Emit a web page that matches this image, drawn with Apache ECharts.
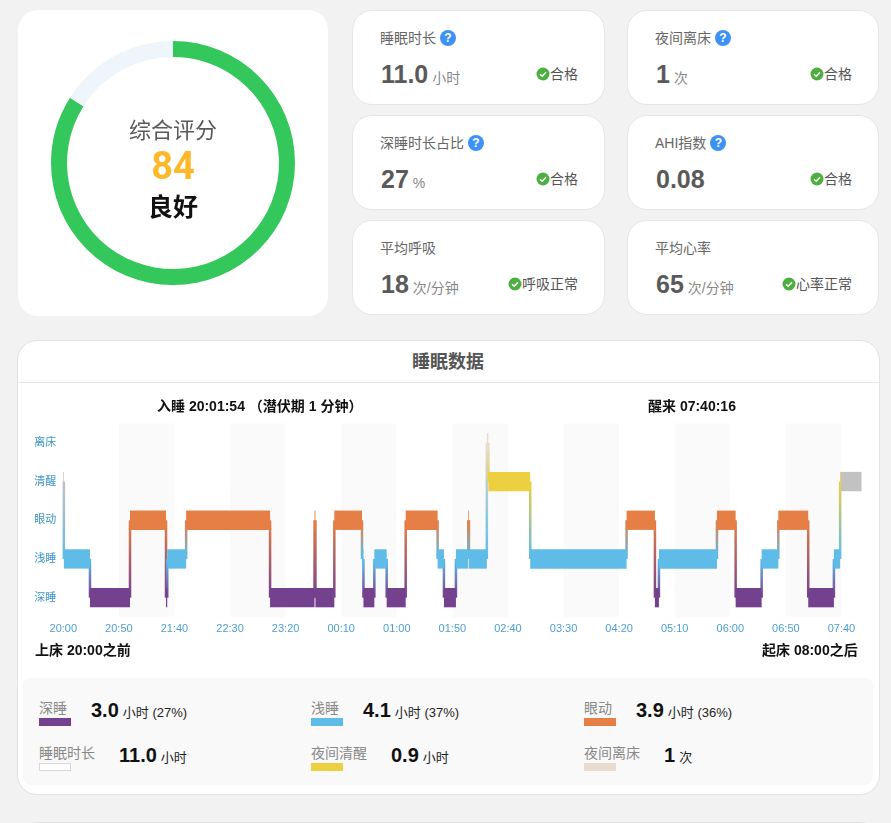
<!DOCTYPE html>
<html lang="zh">
<head>
<meta charset="utf-8">
<title>睡眠数据</title>
<script src="https://cdn.jsdelivr.net/npm/echarts@6/dist/echarts.min.js"></script>
<style>
  html, body { margin: 0; padding: 0; width: 891px; height: 823px; overflow: hidden; background: #f2f2f2; }
  body { position: relative; font-family: "Liberation Sans", "Noto Sans CJK SC", sans-serif; }
  .abs { position: absolute; }
  .card { position: absolute; background: #fff; border: 1px solid #e6e6e6; border-radius: 20px; box-sizing: border-box; }
  .m-title { position: absolute; left: 27px; top: 17px; font-size: 14px; line-height: 20px; color: #666; white-space: nowrap; }
  .help { display: inline-block; width: 16px; height: 16px; border-radius: 50%; background: #3f92f5; color: #fff; font-size: 12px; font-weight: 700; line-height: 16px; text-align: center; margin-left: 4px; vertical-align: 1px; }
  .m-value { position: absolute; left: 28px; top: 47px; line-height: 32px; white-space: nowrap; color: #5a5a5a; font-size: 25px; font-weight: 700; }
  .m-unit { font-size: 14px; font-weight: 400; color: #888; margin-left: 4px; }
  .m-status { position: absolute; right: 26px; top: 53px; font-size: 14px; line-height: 20px; color: #555; white-space: nowrap; display: flex; align-items: center; }
  .m-status svg { display: block; }
  .legend-panel { position: absolute; left: 23px; top: 678px; width: 850px; height: 107px; background: #f9f9f9; border-radius: 8px; }
  .lg { position: absolute; display: flex; align-items: flex-start; }
  .lg-name { font-size: 14px; line-height: 20px; color: #888; white-space: nowrap; }
  .lg-swatch { position: absolute; left: 0; top: 20px; width: 32px; height: 8px; box-sizing: border-box; }
  .lg-val { margin-left: 24px; font-size: 20px; font-weight: 700; color: #111; line-height: 28px; white-space: nowrap; margin-top: -2px; }
  .lg-unit { font-size: 13px; font-weight: 400; color: #222; margin-left: 4px; }
</style>
</head>
<body>
<div class="card" style="left:18px;top:10px;width:310px;height:306px;border:none"></div>
<div id="ring" class="abs" style="left:18px;top:10px;width:310px;height:306px"></div>
<div id="metrics"></div>

<div class="card" style="left:17px;top:340px;width:863px;height:455px;border-color:#e2e2e2"></div>
<div class="abs" style="left:17px;top:351px;width:862px;text-align:center;font-size:18px;font-weight:700;line-height:22px;color:#555">睡眠数据</div>
<div class="abs" style="left:18px;top:382px;width:861px;height:1px;background:#e6e6e6"></div>
<div id="sleep" class="abs" style="left:17px;top:385px;width:862px;height:290px"></div>
<div class="legend-panel"></div>
<div id="legend"></div>
<div class="card" style="left:17px;top:822px;width:863px;height:60px;border-color:#e2e2e2"></div>

<script>
// ---- score ring ----
const scoreValue = 84;
const scoreMax = 100;
const scoreTitle = '综合评分';
const scoreGrade = '良好';

// ---- metric cards ----
const metricTitles = ['睡眠时长', '夜间离床', '深睡时长占比', 'AHI指数', '平均呼吸', '平均心率'];
const metricValues = ['11.0', '1', '27', '0.08', '18', '65'];
const metricUnits = ['小时', '次', '%', '', '次/分钟', '次/分钟'];
const metricStatus = ['合格', '合格', '合格', '合格', '呼吸正常', '心率正常'];
const metricHelp = [true, true, true, true, false, false];

// ---- hypnogram ----
const stageNames = ['深睡', '浅睡', '眼动', '清醒', '离床'];
const stageColors = ['#74418f', '#5fbbe8', '#e67f45', '#ecd03f', '#e8dccf'];
const axisTickLabels = ['20:00', '20:50', '21:40', '22:30', '23:20', '00:10', '01:00', '01:50', '02:40', '03:30', '04:20', '05:10', '06:00', '06:50', '07:40'];
// segment stage index / start / end, minutes after 20:00
const segStage = [3, 1, 0, 2, 0, 1, 2, 0, 2, 0, 2, 1, 0, 1, 0, 2, 1, 0, 1, 2, 1, 4, 3, 1, 2, 0, 1, 2, 0, 1, 2, 0, 1, 3, 3];
const segStart = [0, 0.5, 24, 60, 92.4, 93.5, 110.5, 186, 226, 226.8, 243.8, 268.7, 270, 279.8, 290.9, 308, 336.7, 342.4, 353.2, 364.3, 364.9, 381, 382.4, 420, 506.7, 532.2, 535.8, 588, 604.8, 628.2, 643.2, 670.1, 693.2, 698.8, 699.6];
const segEnd = [0.5, 24, 60, 92.4, 93.5, 110.5, 186, 226, 226.8, 243.8, 268.7, 270, 279.8, 290.9, 308, 336.7, 342.4, 353.2, 364.3, 364.9, 381, 382.4, 420, 506.7, 532.2, 535.8, 588, 604.8, 628.2, 643.2, 670.1, 693.2, 698.8, 699.6, 718];
// grey marks the time out of sleep before falling asleep and after waking
const greySegments = [0, segStage.length - 1];
const greyColor = '#c2c2c2';

const chartNotes = ['入睡 20:01:54 （潜伏期 1 分钟）', '醒来 07:40:16', '上床 20:00之前', '起床 08:00之后'];

// ---- bottom legend ----
const legendNames = ['深睡', '浅睡', '眼动', '睡眠时长', '夜间清醒', '夜间离床'];
const legendValues = ['3.0', '4.1', '3.9', '11.0', '0.9', '1'];
const legendUnits = ['小时 (27%)', '小时 (37%)', '小时 (36%)', '小时', '小时', '次'];
const legendSwatches = ['#74418f', '#5fbbe8', '#e67f45', '#ffffff', '#ecd03f', '#e8dccf'];

const FONT = '"Liberation Sans", "Noto Sans CJK SC", sans-serif';

// metric cards
const cardLefts = [352, 627], cardTops = [10, 115, 220];
const checkSvg = '<svg width="14" height="14" viewBox="0 0 14 14"><circle cx="7" cy="7" r="6.5" fill="#4caf3f"/><path d="M4 7.2 L6.2 9.2 L10 5.2" fill="none" stroke="#fff" stroke-width="1.5"/></svg>';
document.getElementById('metrics').innerHTML = metricTitles.map((t, i) => {
  const l = cardLefts[i % 2], top = cardTops[Math.floor(i / 2)];
  return `<div class="card" style="left:${l}px;top:${top}px;width:${i % 2 ? 252 : 253}px;height:95px">
    <div class="m-title">${t}${metricHelp[i] ? '<span class="help">?</span>' : ''}</div>
    <div class="m-value">${metricValues[i]}${metricUnits[i] ? `<span class="m-unit">${metricUnits[i]}</span>` : ''}</div>
    <div class="m-status">${checkSvg}<span>${metricStatus[i]}</span></div>
  </div>`;
}).join('');

// legend
const lgLefts = [39, 311, 584], lgTops = [698, 743];
document.getElementById('legend').innerHTML = legendNames.map((n, i) => {
  const l = lgLefts[i % 3], top = lgTops[Math.floor(i / 3)];
  const outline = legendSwatches[i] === '#ffffff' ? 'border:1px solid #d8d8d8;' : '';
  return `<div class="lg" style="left:${l}px;top:${top}px">
    <div class="lg-name">${n}</div><div class="lg-swatch" style="background:${legendSwatches[i]};${outline}"></div>
    <div class="lg-val">${legendValues[i]}<span class="lg-unit">${legendUnits[i]}</span></div>
  </div>`;
}).join('');

// score ring
const ring = echarts.init(document.getElementById('ring'));
ring.setOption({
  animation: false,
  series: [{
    type: 'pie', silent: true,
    center: [155, 153], radius: [106, 122], startAngle: 90, clockwise: true,
    label: { show: false }, labelLine: { show: false },
    data: [
      { value: scoreValue, itemStyle: { color: '#34c75c' } },
      { value: scoreMax - scoreValue, itemStyle: { color: '#eef6fb' } }
    ]
  }],
  graphic: [
    { type: 'text', left: 'center', top: 111, style: { text: scoreTitle, font: '400 22px ' + FONT, fill: '#5a5a5a' } },
    { type: 'text', left: 'center', top: 140, style: { text: String(scoreValue), font: '700 38px Roboto, ' + FONT, fill: '#fdb92a' } },
    { type: 'text', left: 'center', top: 187, style: { text: scoreGrade, font: '700 25px ' + FONT, fill: '#111' } }
  ]
});

// hypnogram
const colorOf = i => greySegments.includes(i) ? greyColor : stageColors[segStage[i]];
const blocks = segStage.map((s, i) => [s, segStart[i], segEnd[i], i]);
const links = segStage.slice(1).map((s, i) => [segStage[i], s, segStart[i + 1], i]);

const sleep = echarts.init(document.getElementById('sleep'));
sleep.setOption({
  animation: false,
  grid: { left: 46.3, right: 15.3, top: 38.5, bottom: 58 },
  xAxis: {
    type: 'value', min: 0, max: 720, interval: 50,
    axisLine: { show: false }, axisTick: { show: false }, splitLine: { show: false },
    splitArea: { show: true, areaStyle: { color: ['#ffffff', '#fafafa'] } },
    axisLabel: { color: '#4d9fd3', fontSize: 11, fontFamily: FONT, margin: 6, showMaxLabel: false,
      formatter: v => axisTickLabels[v / 50] || '' }
  },
  yAxis: {
    type: 'category', data: stageNames,
    axisLine: { show: false }, axisTick: { show: false }, splitLine: { show: false },
    axisLabel: { color: '#3c96cc', fontSize: 11, fontFamily: FONT, margin: 7 }
  },
  series: [
    {
      type: 'custom', silent: true, clip: false, data: links, encode: { x: 2, y: [0, 1] }, z: 2,
      renderItem: (params, api) => {
        const from = api.value(0), to = api.value(1), x = api.value(2), idx = api.value(3);
        const a = api.coord([x, from]), b = api.coord([x, to]);
        const down = a[1] < b[1];
        const w = 2.5;
        return { type: 'rect',
          shape: { x: a[0] - w / 2, y: Math.min(a[1], b[1]), width: w, height: Math.abs(a[1] - b[1]) },
          style: { fill: new echarts.graphic.LinearGradient(0, 0, 0, 1, [
            { offset: 0, color: down ? colorOf(idx) : colorOf(idx + 1) },
            { offset: 1, color: down ? colorOf(idx + 1) : colorOf(idx) } ]) } };
      }
    },
    {
      type: 'custom', silent: true, clip: false, data: blocks, encode: { x: [1, 2], y: 0 }, z: 3,
      renderItem: (params, api) => {
        const p0 = api.coord([api.value(1), api.value(0)]);
        const p1 = api.coord([api.value(2), api.value(0)]);
        const h = api.size([0, 1])[1] / 2;
        return { type: 'rect',
          shape: { x: p0[0], y: p0[1] - h / 2, width: Math.max(p1[0] - p0[0], 0.7), height: h },
          style: { fill: colorOf(api.value(3)) } };
      }
    }
  ],
  graphic: [
    { type: 'text', x: 140, y: 15, style: { text: chartNotes[0], font: '700 14px ' + FONT, fill: '#111' } },
    { type: 'text', x: 631, y: 15, style: { text: chartNotes[1], font: '700 14px ' + FONT, fill: '#111' } },
    { type: 'text', x: 18, y: 259, style: { text: chartNotes[2], font: '700 14px ' + FONT, fill: '#111' } },
    { type: 'text', x: 745, y: 259, style: { text: chartNotes[3], font: '700 14px ' + FONT, fill: '#111' } }
  ]
});
</script>
</body>
</html>
